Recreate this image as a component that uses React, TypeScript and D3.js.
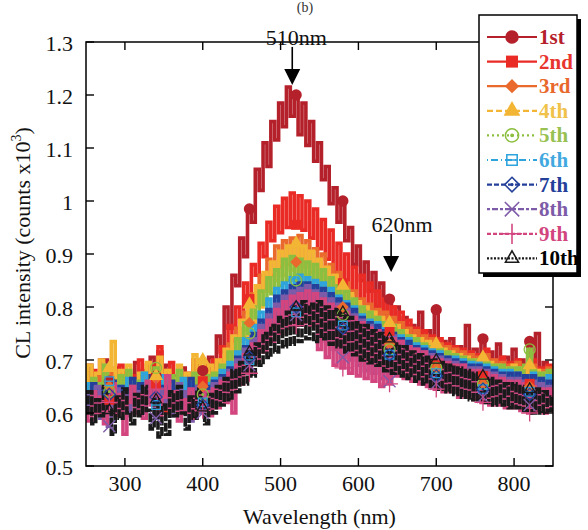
import React from 'react';
import * as d3 from 'd3';

// wavelength grid (nm), 5 nm steps
const wavelengths = d3.range(250, 851, 5);

// CL intensity in counts (one value per wavelength)
const run1 = [
  640, 690, 625, 672, 648, 700, 660, 630, 685, 645,
  675, 620, 665, 695, 640, 680, 650, 705, 670, 715,
  655, 690, 635, 670, 645, 685, 625, 660, 690, 650,
  680, 655, 705, 680, 745, 715, 800, 760, 860, 840,
  930, 895, 985, 960, 1060, 1020, 1110, 1065, 1150, 1115,
  1185, 1140, 1215, 1160, 1200, 1125, 1185, 1105, 1150, 1075,
  1110, 1040, 1065, 995, 1025, 960, 1000, 925, 950, 880,
  915, 850, 885, 830, 865, 800, 845, 780, 815, 760,
  800, 745, 780, 730, 765, 720, 790, 710, 755, 700,
  795, 695, 735, 690, 740, 680, 725, 690, 765, 675,
  720, 680, 740, 670, 715, 685, 730, 660, 705, 675,
  720, 655, 700, 670, 735, 690, 750, 655, 695, 640,
  670,
];
const run2 = [
  665, 620, 680, 640, 700, 655, 625, 675, 640, 690,
  650, 600, 670, 635, 700, 660, 640, 690, 655, 725,
  680, 600, 695, 630, 665, 620, 675, 650, 700, 640,
  660, 690, 650, 700, 670, 725, 700, 765, 735, 800,
  780, 845, 815, 880, 860, 920, 895, 960, 925, 990,
  940, 1005, 950, 1015, 955, 1010, 945, 1000, 930, 985,
  910, 965, 890, 945, 865, 920, 845, 900, 825, 875,
  810, 860, 795, 845, 780, 830, 770, 815, 755, 800,
  745, 790, 730, 775, 720, 760, 705, 755, 700, 745,
  690, 740, 685, 730, 680, 725, 670, 720, 675, 715,
  665, 710, 670, 720, 660, 700, 650, 705, 660, 695,
  650, 700, 645, 690, 655, 700, 640, 685, 650, 690,
  645,
];
const run3 = [
  630, 665, 615, 655, 670, 625, 650, 680, 620, 660,
  640, 675, 615, 650, 665, 625, 690, 640, 665, 620,
  655, 680, 630, 660, 615, 645, 670, 630, 660, 625,
  650, 675, 640, 680, 655, 700, 680, 730, 705, 760,
  735, 790, 770, 825, 805, 860, 835, 890, 860, 915,
  875, 925, 880, 930, 885, 935, 875, 925, 865, 910,
  850, 900, 835, 880, 815, 865, 800, 845, 785, 830,
  770, 815, 760, 805, 750, 795, 740, 790, 730, 780,
  725, 770, 715, 760, 705, 755, 700, 745, 690, 740,
  685, 730, 680, 725, 675, 720, 665, 715, 670, 710,
  660, 705, 655, 710, 650, 700, 655, 695, 645, 690,
  650, 695, 640, 685, 650, 690, 635, 680, 645, 685,
  640,
];
const run4 = [
  660, 690, 640, 675, 700, 650, 685, 735, 655, 680,
  645, 690, 660, 630, 675, 650, 695, 640, 670, 705,
  645, 680, 625, 665, 690, 640, 675, 650, 710, 665,
  700, 650, 690, 655, 700, 665, 720, 685, 745, 710,
  775, 740, 805, 770, 840, 800, 865, 830, 885, 850,
  905, 860, 915, 870, 920, 865, 915, 860, 905, 850,
  890, 840, 875, 825, 860, 810, 840, 795, 825, 780,
  810, 765, 800, 755, 790, 745, 780, 740, 770, 730,
  765, 720, 755, 715, 745, 710, 740, 700, 735, 695,
  730, 690, 720, 685, 715, 680, 710, 675, 705, 670,
  700, 665, 705, 660, 695, 665, 690, 655, 685, 660,
  690, 650, 685, 655, 690, 645, 680, 650, 675, 640,
  665,
];
const run5 = [
  645, 620, 665, 635, 655, 690, 640, 660, 625, 670,
  650, 680, 630, 660, 640, 675, 620, 655, 685, 645,
  665, 630, 670, 645, 680, 625, 660, 640, 675, 650,
  635, 670, 640, 675, 650, 690, 670, 715, 690, 740,
  720, 770, 750, 800, 780, 830, 805, 855, 825, 870,
  840, 890, 850, 895, 850, 890, 845, 885, 835, 880,
  825, 870, 815, 855, 800, 840, 785, 830, 770, 815,
  760, 800, 745, 790, 740, 780, 730, 770, 720, 765,
  715, 755, 705, 745, 700, 740, 695, 730, 690, 725,
  685, 720, 680, 715, 675, 710, 670, 705, 665, 700,
  660, 700, 655, 695, 655, 690, 650, 690, 645, 685,
  650, 685, 645, 690, 720, 680, 645, 675, 640, 680,
  650,
];
const run6 = [
  620, 655, 630, 600, 645, 620, 660, 630, 605, 650,
  625, 665, 635, 610, 650, 675, 630, 655, 615, 645,
  670, 625, 650, 610, 640, 665, 625, 655, 615, 645,
  620, 655, 625, 665, 635, 680, 650, 695, 670, 715,
  690, 740, 700, 765, 740, 790, 765, 815, 780, 835,
  800, 845, 805, 855, 790, 860, 810, 855, 805, 850,
  795, 845, 785, 835, 775, 820, 765, 810, 750, 800,
  740, 785, 735, 775, 725, 770, 715, 760, 710, 750,
  700, 745, 695, 740, 690, 730, 685, 725, 680, 720,
  675, 715, 670, 705, 665, 705, 660, 700, 655, 695,
  650, 695, 645, 690, 640, 685, 645, 680, 635, 680,
  640, 675, 630, 670, 640, 675, 625, 665, 635, 670,
  630,
];
const run7 = [
  605, 640, 655, 615, 645, 600, 635, 660, 620, 650,
  610, 645, 665, 625, 655, 605, 640, 670, 630, 610,
  650, 625, 660, 615, 645, 600, 640, 665, 620, 650,
  615, 650, 620, 660, 630, 670, 645, 685, 660, 705,
  680, 725, 705, 750, 725, 775, 750, 795, 770, 820,
  785, 830, 795, 840, 800, 845, 800, 845, 795, 840,
  790, 835, 785, 825, 770, 815, 760, 805, 750, 795,
  740, 780, 730, 770, 725, 765, 715, 755, 710, 750,
  700, 740, 695, 735, 690, 725, 680, 720, 675, 715,
  670, 710, 665, 705, 660, 700, 655, 695, 655, 690,
  650, 690, 645, 685, 640, 680, 640, 675, 635, 675,
  640, 675, 630, 670, 635, 670, 625, 665, 630, 660,
  625,
];
const run8 = [
  600, 640, 615, 650, 590, 630, 575, 620, 645, 605,
  635, 595, 650, 615, 640, 600, 655, 620, 590, 645,
  610, 640, 595, 630, 655, 605, 640, 585, 625, 650,
  600, 640, 610, 655, 620, 665, 635, 680, 650, 700,
  670, 720, 690, 740, 715, 765, 735, 785, 750, 805,
  770, 820, 780, 830, 785, 835, 790, 840, 785, 830,
  745, 825, 735, 815, 720, 805, 705, 795, 700, 785,
  690, 775, 680, 765, 675, 755, 665, 750, 660, 745,
  685, 735, 680, 725, 675, 720, 665, 715, 660, 710,
  655, 705, 650, 700, 650, 695, 645, 690, 640, 685,
  635, 685, 630, 680, 630, 675, 625, 670, 625, 665,
  620, 665, 620, 660, 615, 660, 610, 655, 615, 650,
  620,
];
const run9 = [
  610, 585, 640, 600, 630, 580, 620, 655, 595, 635,
  560, 620, 650, 600, 635, 590, 660, 615, 645, 595,
  630, 670, 610, 640, 585, 625, 600, 645, 590, 635,
  605, 640, 595, 645, 610, 660, 620, 675, 600, 690,
  655, 710, 675, 730, 695, 755, 715, 775, 735, 795,
  750, 810, 760, 820, 765, 825, 770, 830, 765, 825,
  720, 815, 705, 805, 690, 800, 685, 790, 675, 780,
  670, 770, 665, 760, 660, 755, 650, 750, 655, 740,
  670, 735, 665, 725, 660, 720, 655, 715, 650, 705,
  645, 700, 640, 695, 640, 690, 630, 690, 630, 680,
  625, 680, 620, 675, 615, 670, 615, 665, 610, 660,
  610, 660, 605, 655, 600, 650, 605, 645, 600, 645,
  605,
];
const run10 = [
  600, 640, 580, 625, 595, 650, 605, 560, 630, 590,
  645, 600, 580, 635, 595, 650, 605, 570, 625, 555,
  615, 560, 640, 595, 650, 600, 570, 630, 590, 645,
  610, 580, 635, 600, 650, 615, 665, 625, 680, 640,
  695, 655, 715, 670, 730, 690, 750, 705, 765, 715,
  780, 725, 790, 730, 800, 735, 810, 740, 805, 735,
  810, 740, 800, 730, 795, 725, 790, 715, 780, 710,
  770, 700, 765, 695, 755, 690, 750, 680, 740, 675,
  730, 670, 725, 665, 715, 660, 710, 655, 705, 650,
  700, 645, 695, 640, 690, 635, 685, 630, 680, 625,
  675, 625, 670, 620, 665, 615, 660, 615, 655, 610,
  655, 610, 650, 605, 645, 600, 645, 600, 640, 605,
  630,
];

const runs = [run1, run2, run3, run4, run5, run6, run7, run8, run9, run10];
const runNames = ['1st', '2nd', '3rd', '4th', '5th', '6th', '7th', '8th', '9th', '10th'];
const lineColors = ['#b5212b', '#ea2b25', '#ea6a2d', '#f2b634', '#8cbf3f', '#2ea3dc', '#24409a', '#7d5ba8', '#d2457e', '#1a1a1a'];
const labelColors = ['#b5212b', '#e8352e', '#e8682c', '#f0c24a', '#98c152', '#42a9e0', '#24409a', '#7d5ba8', '#d2457e', '#000000'];
const legendDashes = ['', '', '', '6,3', '2,3', '1,3,7,3', '5,2', '3,2,6,2', '4,2', '2,1.5'];
const plotDashes = ['', '', '', '', '', '', '', '', '', '9,1.5'];
const markerKinds = ['circle', 'square', 'diamond', 'triangle', 'circleDot', 'squareLine', 'diamondDot', 'times', 'plus', 'triangleOpen'];
const markerWavelengths = [280, 340, 400, 460, 520, 580, 640, 700, 760, 820];

const xTicks = [300, 400, 500, 600, 700, 800];
const yTicks = [0.5, 0.6, 0.7, 0.8, 0.9, 1, 1.1, 1.2, 1.3];

const annotations = [
  { label: '510nm', wl: 515, tip: 1.219, textDx: 4 },
  { label: '620nm', wl: 642, tip: 0.866, textDx: 11 },
];

const FONT = "'Liberation Serif', 'Times New Roman', Times, serif";

const x = d3.scaleLinear().domain([250, 850]).range([86, 553]);
const y = d3.scaleLinear().domain([0.5, 1.3]).range([466, 42]);

const sym = (type: any, size: number) => d3.symbol().type(type).size(size)() || '';
const diamond2 = (d3 as any).symbolDiamond2 || d3.symbolDiamond;
const square2 = (d3 as any).symbolSquare2 || d3.symbolSquare;
const triangle2 = (d3 as any).symbolTriangle2 || d3.symbolTriangle;
const times = (d3 as any).symbolTimes || d3.symbolCross;

function Marker({ kind, cx, cy, color, s = 1 }: { kind: string; cx: number; cy: number; color: string; s?: number }) {
  const t = `translate(${cx},${cy}) scale(${s})`;
  const open = { fill: 'none', stroke: color, strokeWidth: 1.3 };
  switch (kind) {
    case 'circle':
      return <path transform={t} d={sym(d3.symbolCircle, 100)} fill={color} />;
    case 'square':
      return <path transform={t} d={sym(d3.symbolSquare, 100)} fill={color} />;
    case 'diamond':
      return <path transform={t} d={sym(diamond2, 90)} fill={color} />;
    case 'triangle':
      return <path transform={t} d={sym(d3.symbolTriangle, 85)} fill={color} />;
    case 'circleDot':
      return (
        <g transform={t}>
          <path d={sym(d3.symbolCircle, 95)} {...open} />
          <circle r={1.5} fill={color} />
        </g>
      );
    case 'squareLine':
      return (
        <g transform={t}>
          <path d={sym(square2, 95)} {...open} />
          <line x1={-5} x2={5} y1={0} y2={0} stroke={color} strokeWidth={1.3} />
        </g>
      );
    case 'diamondDot':
      return (
        <g transform={t}>
          <path d={sym(diamond2, 95)} {...open} />
          <circle r={1.3} fill={color} />
        </g>
      );
    case 'times':
      return <path transform={t} d={sym(times, 95)} {...open} />;
    case 'plus':
      return <path transform={t} d={sym(d3.symbolPlus, 95)} {...open} />;
    default:
      return <path transform={t} d={sym(triangle2, 85)} {...open} />;
  }
}

export default function App() {
  const line = d3
    .line<number>()
    .x((_, i) => x(wavelengths[i]))
    .y((d) => y(d / 1000))
    .curve(d3.curveStep);

  const legendX = 479, legendY = 15, legendW = 98, legendH = 258;
  const rowY = (i: number) => legendY + 22 + i * 24.6;

  return (
    <svg width={588} height={530} style={{ position: 'absolute', left: 0, top: 0, background: '#fff', fontFamily: FONT }}>
      <defs>
        <clipPath id="plot">
          <rect x={86} y={42} width={467} height={424} />
        </clipPath>
      </defs>

      <text x={305} y={12} fontSize={14} textAnchor="middle" fill="#333">(b)</text>

      {/* series */}
      <g clipPath="url(#plot)">
        {runs.map((r, k) => (
          <path
            key={runNames[k]}
            d={line(r) || ''}
            fill="none"
            stroke={lineColors[k]}
            strokeWidth={3.6}
            strokeLinecap="butt"
            strokeDasharray={plotDashes[k] || undefined}
          />
        ))}
        {runs.map((r, k) =>
          markerWavelengths.map((wl) => {
            const idx = wavelengths.indexOf(wl);
            return <Marker key={runNames[k] + wl} kind={markerKinds[k]} cx={x(wl)} cy={y(r[idx] / 1000)} color={lineColors[k]} />;
          })
        )}
      </g>

      {/* frame */}
      <rect x={86} y={42} width={467} height={424} fill="none" stroke="#000" strokeWidth={1.5} />
      {xTicks.map((t) => (
        <g key={'x' + t}>
          <line x1={x(t)} x2={x(t)} y1={466} y2={458} stroke="#000" strokeWidth={1.4} />
          <line x1={x(t)} x2={x(t)} y1={42} y2={50} stroke="#000" strokeWidth={1.4} />
          <text x={x(t)} y={491} fontSize={22} textAnchor="middle" fill="#111">{t}</text>
        </g>
      ))}
      {yTicks.map((t) => (
        <g key={'y' + t}>
          <line x1={86} x2={94} y1={y(t)} y2={y(t)} stroke="#000" strokeWidth={1.4} />
          <line x1={553} x2={545} y1={y(t)} y2={y(t)} stroke="#000" strokeWidth={1.4} />
          <text x={73} y={y(t) + 9} fontSize={22} textAnchor="end" fill="#111">{d3.format('~g')(t)}</text>
        </g>
      ))}

      <text x={319.5} y={524} fontSize={22} textAnchor="middle" fill="#111">Wavelength (nm)</text>
      <text transform="translate(30,243) rotate(-90)" fontSize={22} textAnchor="middle" fill="#111">
        CL intensity (counts x10<tspan dy={-9} fontSize={14}>3</tspan><tspan dy={9}>)</tspan>
      </text>

      {/* annotations */}
      {annotations.map((a) => {
        const ax = x(a.wl);
        const tip = y(a.tip);
        return (
          <g key={a.label}>
            <line x1={ax} x2={ax} y1={tip - 38} y2={tip - 14} stroke="#000" strokeWidth={1.6} />
            <path d={`M${ax - 8},${tip - 16} L${ax + 8},${tip - 16} L${ax},${tip} Z`} fill="#000" />
            <text x={ax + a.textDx} y={tip - 40} fontSize={22} textAnchor="middle" fill="#111">{a.label}</text>
          </g>
        );
      })}

      {/* legend */}
      <rect x={legendX + 4} y={legendY + 4} width={legendW} height={legendH} fill="#000" />
      <rect x={legendX} y={legendY} width={legendW} height={legendH} fill="#fff" stroke="#000" strokeWidth={1.5} />
      {runNames.map((n, i) => (
        <g key={'lg' + n}>
          <line x1={487} x2={537} y1={rowY(i)} y2={rowY(i)} stroke={lineColors[i]} strokeWidth={2.2} strokeDasharray={legendDashes[i] || undefined} />
          <Marker kind={markerKinds[i]} cx={512} cy={rowY(i)} color={lineColors[i]} s={1.2} />
          <text x={539} y={rowY(i) + 7} fontSize={21} fontWeight="bold" fill={labelColors[i]}>{n}</text>
        </g>
      ))}
    </svg>
  );
}
